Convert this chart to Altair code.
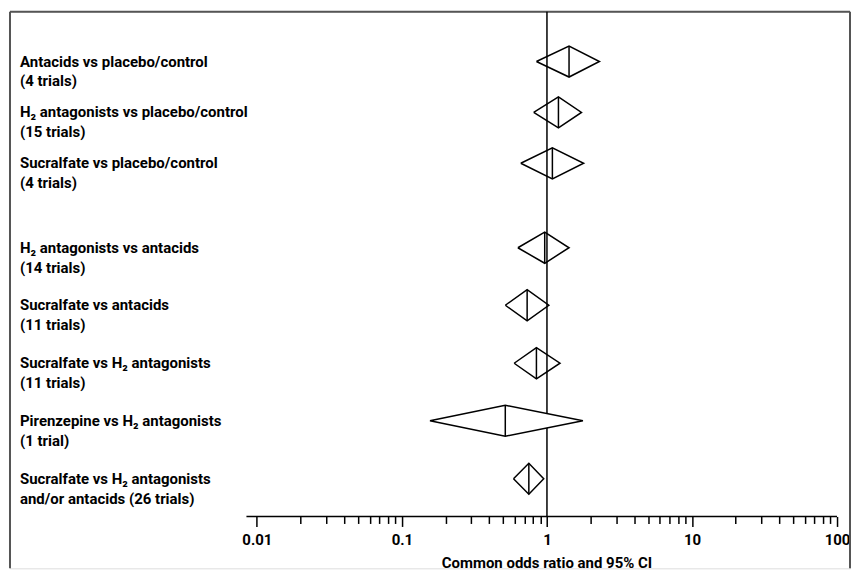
import altair as alt
import pandas as pd

# ---- data ----
label_line1 = [
    "Antacids vs placebo/control",
    "H₂ antagonists vs placebo/control",
    "Sucralfate vs placebo/control",
    "H₂ antagonists vs antacids",
    "Sucralfate vs antacids",
    "Sucralfate vs H₂ antagonists",
    "Pirenzepine vs H₂ antagonists",
    "Sucralfate vs H₂ antagonists",
]
label_line2 = [
    "(4 trials)",
    "(15 trials)",
    "(4 trials)",
    "(14 trials)",
    "(11 trials)",
    "(11 trials)",
    "(1 trial)",
    "and/or antacids (26 trials)",
]
or_est = [1.42, 1.20, 1.09, 0.965, 0.73, 0.846, 0.516, 0.75]
ci_low = [0.846, 0.81, 0.66, 0.63, 0.516, 0.594, 0.156, 0.588]
ci_high = [2.30, 1.73, 1.79, 1.42, 1.03, 1.23, 1.77, 0.95]

# ---- layout (row slots, in row units) ----
row_slot = [0, 1, 2, 3.66, 4.79, 5.93, 7.06, 8.2]
half_h = 0.305
axis_level = 8.941
y_top, y_bottom = -0.98, 9.961
title_level = 9.955
x_dom = [0.0001984, 122.9]
axis_left, axis_right = 0.00847, 100

FONT = "Roboto"
FS = 15

tick_vals = []
for d in [0.01, 0.1, 1, 10]:
    for m in range(1, 10):
        tick_vals.append(round(m * d, 6))
tick_vals.append(100)

is_major = "abs(log(datum.value)/LN10 - round(log(datum.value)/LN10)) < 0.001"

XS = alt.Scale(type="log", domain=x_dom, nice=False, zero=False)
AX = alt.Axis(
    values=tick_vals,
    format="~g",
    labelExpr=f"({is_major}) ? datum.label : ''",
    tickSize={"condition": {"test": is_major, "value": 10}, "value": 7},
    tickColor="black",
    tickWidth=1.5,
    domain=False,
    grid=False,
    title=None,
    offset=-52,
    labelFont=FONT,
    labelFontSize=FS,
    labelFontWeight="bold",
    labelColor="black",
    labelPadding=6,
    labelOverlap=False,
    labelFlush=False,
)
YS = alt.Scale(domain=[y_top, y_bottom], reverse=True, nice=False, zero=False)


def X(field):
    return alt.X(field, type="quantitative", scale=XS, axis=AX)


def Y(field):
    return alt.Y(field, type="quantitative", scale=YS, axis=None)


# diamond outlines
pts = []
for i in range(len(or_est)):
    y0 = row_slot[i]
    seq = [
        (ci_low[i], y0),
        (or_est[i], y0 - half_h),
        (ci_high[i], y0),
        (or_est[i], y0 + half_h),
        (ci_low[i], y0),
    ]
    for k, (xv, yv) in enumerate(seq):
        pts.append({"row": i, "k": k, "x": xv, "y": yv})
diamond_df = pd.DataFrame(pts)

# white fill for the wide diamond (covers the reference line)
fill_rows = []
for i in range(len(or_est)):
    y0 = row_slot[i]
    fill_rows += [
        {"row": i, "x": ci_low[i], "y": y0, "y2": y0},
        {"row": i, "x": or_est[i], "y": y0 - half_h, "y2": y0 + half_h},
        {"row": i, "x": ci_high[i], "y": y0, "y2": y0},
    ]
fill_df = pd.DataFrame(fill_rows)

center_df = pd.DataFrame({
    "x": or_est,
    "y": [r - half_h for r in row_slot],
    "y2": [r + half_h for r in row_slot],
})

label_df = pd.DataFrame({
    "y": row_slot,
    "text": [a + "\n" + b for a, b in zip(label_line1, label_line2)],
})

ref_df = pd.DataFrame({"x": [1], "y": [y_top], "y2": [axis_level]})
dom_df = pd.DataFrame({"x": [axis_left], "x2": [axis_right], "y": [axis_level]})
title_df = pd.DataFrame({"x": [1], "y": [title_level], "text": ["Common odds ratio and 95% CI"]})

# frame: left, top and right sides (bottom lies below the visible page)
frame_v = pd.DataFrame({"x": [x_dom[0], x_dom[1]], "y": [y_top, y_top], "y2": [y_bottom, y_bottom]})
frame_h = pd.DataFrame({"x": [x_dom[0]], "x2": [x_dom[1]], "y": [y_top]})

frame1 = alt.Chart(frame_v).mark_rule(color="#555555", strokeWidth=2).encode(
    x=X("x"), y=Y("y"), y2="y2"
)
frame2 = alt.Chart(frame_h).mark_rule(color="#555555", strokeWidth=2).encode(
    x=X("x"), x2="x2", y=Y("y")
)
ref = alt.Chart(ref_df).mark_rule(color="black", strokeWidth=1.5).encode(
    x=X("x"), y=Y("y"), y2="y2"
)
dom = alt.Chart(dom_df).mark_rule(color="black", strokeWidth=1.5).encode(
    x=X("x"), x2="x2", y=Y("y")
)
fill = alt.Chart(fill_df).transform_filter(alt.datum.row == 6).mark_area(
    orient="vertical", color="white", opacity=1
).encode(x=X("x"), y=Y("y"), y2="y2", detail="row:N")
diamonds = alt.Chart(diamond_df).mark_line(color="black", strokeWidth=1.5).encode(
    x=X("x"), y=Y("y"), detail="row:N", order="k:Q"
)
centers = alt.Chart(center_df).mark_rule(color="black", strokeWidth=1.5).encode(
    x=X("x"), y=Y("y"), y2="y2"
)
labels = alt.Chart(label_df).mark_text(
    align="left", baseline="middle", lineBreak="\n", lineHeight=20,
    font=FONT, fontSize=FS, fontWeight="bold", color="black"
).encode(x=alt.value(10), y=Y("y"), text="text:N")
title = alt.Chart(title_df).mark_text(
    align="center", baseline="alphabetic",
    font=FONT, fontSize=FS, fontWeight="bold", color="black"
).encode(x=X("x"), y=Y("y"), text="text:N")

chart = alt.layer(frame1, frame2, ref, dom, fill, diamonds, centers, labels, title).properties(
    width=842, height=558,
    padding={"left": 1, "top": 2, "right": 0, "bottom": 0},
).configure_view(strokeWidth=0).configure(background="white")

chart.save("out.html", embed_options={"renderer": "svg", "actions": False})
